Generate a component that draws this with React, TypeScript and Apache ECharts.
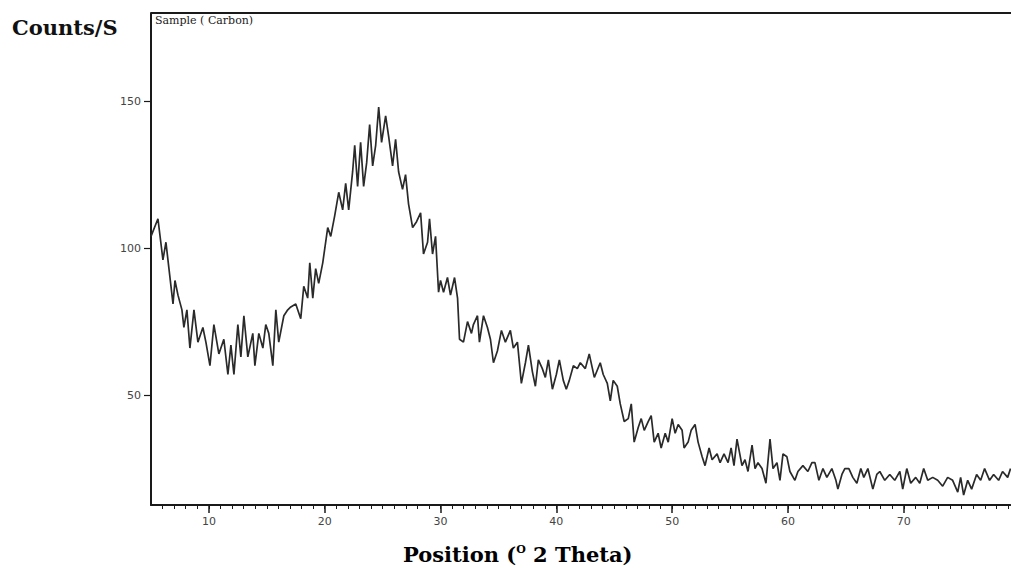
import React, { useEffect, useRef } from "react";
import * as echarts from "echarts";

const twoTheta: number[] = [
  5.0, 5.6, 6.03, 6.29, 6.55, 6.9, 7.07, 7.33, 7.67, 7.84, 8.1, 8.36, 8.71, 9.05, 9.48, 9.74, 10.09, 10.43, 10.86, 11.29,
  11.64, 11.9, 12.16, 12.5, 12.76, 13.02, 13.36, 13.79, 13.97, 14.31, 14.66, 14.91, 15.17, 15.52, 15.78, 16.03, 16.47, 16.81, 17.07, 17.5,
  17.93, 18.19, 18.53, 18.71, 18.97, 19.22, 19.48, 19.83, 20.26, 20.52, 20.86, 21.21, 21.55, 21.81, 22.07, 22.41, 22.59, 22.84, 23.1, 23.36,
  23.62, 23.88, 24.14, 24.4, 24.66, 24.91, 25.26, 25.52, 25.86, 26.12, 26.38, 26.72, 26.98, 27.24, 27.59, 27.93, 28.28, 28.53, 28.88, 29.05,
  29.31, 29.57, 29.83,
  30.0, 30.26, 30.6, 30.86, 31.21, 31.47, 31.64, 31.98, 32.33, 32.67, 32.84, 33.19, 33.36, 33.71, 34.05, 34.31, 34.57, 34.91, 35.26, 35.6,
  36.03, 36.29, 36.64, 36.98, 37.33, 37.59, 37.93, 38.19, 38.45, 38.79, 39.05, 39.31, 39.66, 40.0, 40.26, 40.6, 40.86, 41.12, 41.47, 41.81,
  42.07, 42.5, 42.84,
  43.28, 43.79, 44.05, 44.4, 44.66, 44.91, 45.26, 45.52, 45.86, 46.21, 46.47, 46.72, 47.07, 47.33, 47.59, 47.93, 48.19, 48.45, 48.79, 49.05,
  49.4, 49.66, 50.0, 50.26, 50.52, 50.86, 51.03, 51.38, 51.64, 51.98, 52.24, 52.59, 52.84, 53.19, 53.45, 53.88, 54.14, 54.48, 54.83, 55.09,
  55.34,
  55.6, 56.03, 56.29, 56.55, 56.9, 57.16, 57.41, 57.76, 58.1, 58.45, 58.71, 59.05, 59.31, 59.57, 59.91, 60.17, 60.6, 60.86, 61.29, 61.72,
  62.07, 62.33, 62.67, 63.02, 63.36, 63.79, 64.14, 64.31, 64.66, 64.91, 65.26, 65.6, 65.95, 66.29, 66.55, 66.9, 67.33, 67.67,
  67.93, 68.36, 68.79, 69.22, 69.66, 69.91, 70.26, 70.6, 71.03, 71.38, 71.72, 72.07, 72.5, 72.93, 73.36, 73.79, 74.22, 74.66, 74.91, 75.17,
  75.52, 75.86, 76.29, 76.64, 76.98, 77.41, 77.76, 78.19, 78.53, 78.97, 79.22,
];

const counts: number[] = [
  104, 110, 96, 102, 93, 81, 89, 84, 79, 73, 79, 66, 79, 68, 73, 68, 60, 74, 64, 69,
  57, 67, 57, 74, 63, 77, 63, 71, 60, 71, 66, 74, 71, 60, 79, 68, 77, 79, 80, 81,
  76, 87, 83, 95, 83, 93, 88, 95, 107, 104, 111, 119, 113, 122, 113, 126, 135, 121, 136, 121,
  129, 142, 128, 135, 148, 136, 145, 138, 128, 137, 126, 120, 125, 115, 107, 109, 112, 98, 102, 110,
  98, 104, 85,
  89, 85, 90, 84, 90, 83, 69, 68, 75, 71, 74, 77, 68, 77, 73, 69, 61, 65, 72, 68,
  72, 66, 68, 54, 61, 67, 58, 53, 62, 59, 56, 62, 52, 57, 62, 55, 52, 55, 60, 59,
  61, 59, 64,
  56, 61, 57, 54, 48, 55, 53, 47, 41, 42, 47, 34, 39, 42, 38, 41, 43, 34, 37, 32,
  37, 34, 42, 37, 40, 38, 32, 34, 38, 40, 34, 29, 26, 32, 28, 30, 27, 30, 27, 32,
  26,
  35, 26, 28, 24, 33, 25, 27, 25, 20, 35, 25, 27, 21, 30, 29, 24, 21, 24, 26, 24,
  27, 27, 21, 25, 22, 25, 21, 18, 23, 25, 25, 22, 20, 25, 22, 25, 18, 23,
  24, 21, 23, 21, 24, 18, 25, 20, 22, 20, 25, 21, 22, 21, 19, 22, 21, 17, 22, 16,
  21, 18, 23, 21, 25, 21, 23, 21, 24, 22, 25,
];

const xLabelValues: number[] = [10, 20, 30, 40, 50, 60, 70];
const yLabelValues: number[] = [50, 100, 150];

const yTitle = "Counts/S";
const xTitleA = "Position (";
const xTitleSup = "O";
const xTitleB = " 2 Theta)";
const sampleName = "Sample ( Carbon)";

export default function App() {
  const ref = useRef<HTMLDivElement>(null);
  useEffect(() => {
    if (!ref.current) return;
    const chart = echarts.init(ref.current, undefined, { renderer: "svg" });
    const data = twoTheta.map((t, i) => [t, counts[i]]);
    const axisColor = "#1a1a1a";
    chart.setOption({
      animation: false,
      backgroundColor: "#ffffff",
      grid: { left: 151, right: 0, top: 13, bottom: 63, containLabel: false },
      xAxis: [
        {
          type: "value",
          min: 5,
          max: 79.2,
          interval: 1,
          position: "bottom",
          axisLine: { show: true, onZero: false, lineStyle: { color: axisColor, width: 2 } },
          axisTick: { show: true, length: 4, lineStyle: { color: axisColor, width: 1 } },
          axisLabel: {
            show: true,
            margin: 11,
            color: "#444",
            fontSize: 11,
            fontFamily: "DejaVu Sans",
            showMinLabel: false,
            showMaxLabel: false,
            formatter: (v: number) => (Math.abs(v % 10) < 1e-6 ? String(v) : ""),
          },
          splitLine: { show: false },
        },
        {
          type: "value",
          min: 5,
          max: 79.2,
          position: "bottom",
          offset: 0,
          axisLine: { show: false, onZero: false },
          axisTick: { show: true, length: 8, customValues: xLabelValues, lineStyle: { color: axisColor, width: 1.5 } },
          axisLabel: { show: false },
          splitLine: { show: false },
        },
      ],
      yAxis: {
        type: "value",
        min: 12.6,
        max: 180,
        axisLine: { show: true, onZero: false, lineStyle: { color: axisColor, width: 2 } },
        axisTick: { show: true, length: 7, customValues: yLabelValues, lineStyle: { color: axisColor, width: 1.2 } },
        axisLabel: {
          show: true,
          customValues: yLabelValues,
          margin: 10,
          color: "#444",
          fontSize: 11,
          fontFamily: "DejaVu Sans",
        },
        splitLine: { show: false },
      },
      graphic: [
        {
          type: "line",
          shape: { x1: 151, y1: 13, x2: 1011, y2: 13 },
          style: { stroke: axisColor, lineWidth: 2 },
        },
        {
          type: "text",
          left: 12,
          top: 17,
          style: {
            text: yTitle,
            font: "bold 21px 'DejaVu Serif'",
            fill: "#111",
          },
        },
        {
          type: "text",
          left: 155,
          top: 15,
          style: {
            text: sampleName,
            font: "11px 'DejaVu Serif'",
            fill: "#222",
          },
        },
        {
          type: "text",
          left: 403,
          top: 544,
          style: {
            text: "{a|" + xTitleA + "}{s|" + xTitleSup + "}{a|" + xTitleB + "}",
            rich: {
              a: { fontFamily: "DejaVu Serif", fontWeight: "bold", fontSize: 21, color: "#111" },
              s: { fontFamily: "DejaVu Serif", fontWeight: "bold", fontSize: 11, color: "#111", verticalAlign: "top", padding: [0, 0, 9, 0] },
            },
          },
        },
      ],
      series: [
        {
          type: "line",
          xAxisIndex: 0,
          data,
          showSymbol: false,
          symbol: "none",
          lineStyle: { color: "#2a2a2a", width: 1.7 },
        },
      ],
    });
    return () => chart.dispose();
  }, []);
  return <div ref={ref} style={{ position: "fixed", left: 0, top: 0, width: 1011, height: 568 }} />;
}
